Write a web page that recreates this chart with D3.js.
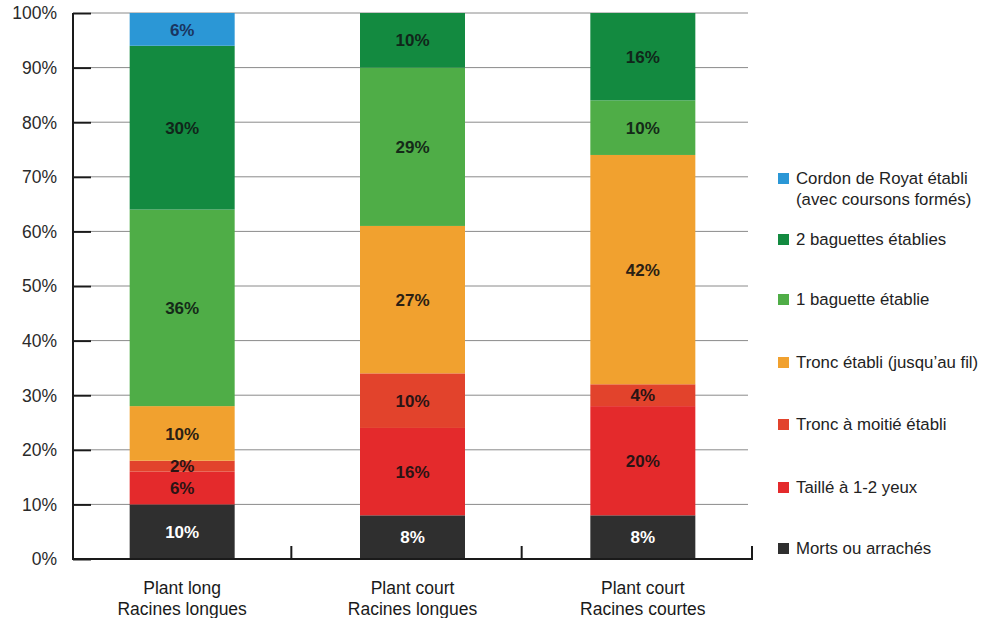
<!DOCTYPE html>
<html><head><meta charset="utf-8">
<script src="https://cdn.jsdelivr.net/npm/d3@7"></script>
<style>body{margin:0;background:#fff;} svg{display:block;font-family:"Liberation Sans",Arial,sans-serif;}</style>
</head><body>
<svg id="c" width="1000" height="618"></svg>
<script>
const categories = [["Plant long","Racines longues"],["Plant court","Racines longues"],["Plant court","Racines courtes"]];
const seriesNames = ["Morts ou arrachés","Taillé à 1-2 yeux","Tronc à moitié établi","Tronc établi (jusqu’au fil)","1 baguette établie","2 baguettes établies","Cordon de Royat établi (avec coursons formés)"];
const morts = [10, 8, 8];
const taille = [6, 16, 20];
const moitie = [2, 10, 4];
const tronc = [10, 27, 42];
const bag1 = [36, 29, 10];
const bag2 = [30, 10, 16];
const cordon = [6, 0, 0];
const yTicks = [0,10,20,30,40,50,60,70,80,90,100];
const colors = ["#2f2f2f","#e42a2c","#e2432c","#f1a12f","#4fad47","#138a40","#2b97d6"];
const labelColors = ["#ffffff","#2a1414","#2a1414","#2a2014","#142a18","#10261a","#1a3560"];

const series = [morts, taille, moitie, tronc, bag1, bag2, cordon];
const svg = d3.select("#c");
const x0 = 73, x1 = 752;
const x = d3.scaleBand().domain(d3.range(categories.length)).range([67, 758]);
const y = d3.scaleLinear().domain([0,100]).range([559, 13]);
const barW = 105;

// gridlines
svg.append("g").selectAll("line").data(yTicks.slice(1)).join("line")
  .attr("x1", 91).attr("x2", 748).attr("y1", d=>y(d)).attr("y2", d=>y(d))
  .attr("stroke", "#8a8a8a").attr("stroke-width", 1);

// stacked data
const table = categories.map((c,i)=>{ const o={i}; series.forEach((s,k)=>o["s"+k]=s[i]); return o; });
const stack = d3.stack().keys(series.map((s,k)=>"s"+k))(table);

const g = svg.append("g");
stack.forEach((layer,k)=>{
  layer.forEach((d,i)=>{
    if (d[1]-d[0] <= 0) return;
    const cx = x(i) + x.bandwidth()/2;
    g.append("rect").attr("x", cx - barW/2).attr("width", barW)
      .attr("y", y(d[1])).attr("height", y(d[0]) - y(d[1]))
      .attr("fill", colors[k]);
  });
});
stack.forEach((layer,k)=>{
  layer.forEach((d,i)=>{
    if (d[1]-d[0] <= 0) return;
    const cx = x(i) + x.bandwidth()/2;
    g.append("text").attr("x", cx).attr("y", (y(d[0])+y(d[1]))/2)
      .attr("dy","0.36em").attr("text-anchor","middle")
      .attr("font-size", 17).attr("font-weight","bold")
      .attr("fill", labelColors[k]).text((d[1]-d[0]) + "%");
  });
});

// y axis
const ya = svg.append("g").attr("transform", `translate(${x0},0)`)
  .call(d3.axisRight(y).tickValues(yTicks).tickSize(18).tickFormat(d=>""));
ya.select(".domain").remove();
ya.selectAll(".tick line").attr("stroke","#1a1a1a").attr("stroke-width",2);
svg.append("line").attr("x1",x0).attr("x2",x0).attr("y1",y(100)).attr("y2",y(0)+1).attr("stroke","#1a1a1a").attr("stroke-width",2);
svg.append("g").selectAll("text").data(yTicks).join("text")
  .attr("x", 57).attr("y", d=>y(d)).attr("dy","0.36em").attr("text-anchor","end")
  .attr("font-size", 17.5).attr("fill","#2a2a2a").text(d=>d+"%");

// x axis
svg.append("line").attr("x1",x0-1).attr("x2",x1+1).attr("y1",y(0)).attr("y2",y(0)).attr("stroke","#1a1a1a").attr("stroke-width",2);
svg.append("g").selectAll("line").data(d3.range(categories.length)).join("line")
  .attr("x1", i=>x(i)+x.bandwidth()-6).attr("x2", i=>x(i)+x.bandwidth()-6)
  .attr("y1", y(0)).attr("y2", y(0)-13).attr("stroke","#1a1a1a").attr("stroke-width",2);
const cl = svg.append("g").selectAll("text").data(categories).join("text")
  .attr("text-anchor","middle").attr("font-size",17.5).attr("fill","#1a1a1a");
cl.each(function(c,i){
  const t = d3.select(this); const cx = x(i)+x.bandwidth()/2;
  c.forEach((line,j)=>t.append("tspan").attr("x",cx).attr("y",594+j*21).text(line));
});

// legend
const legendY = [178, 239, 299, 362, 424, 487, 548];
const legendLines = [["Cordon de Royat établi","(avec coursons formés)"],["2 baguettes établies"],["1 baguette établie"],["Tronc établi (jusqu’au fil)"],["Tronc à moitié établi"],["Taillé à 1-2 yeux"],["Morts ou arrachés"]];
const legendColorIdx = [6,5,4,3,2,1,0];
const lg = svg.append("g");
legendLines.forEach((lines,n)=>{
  const yy = legendY[n];
  lg.append("rect").attr("x",778).attr("y",yy-5).attr("width",11).attr("height",11).attr("fill",colors[legendColorIdx[n]]);
  const t = lg.append("text").attr("font-size",16.8).attr("fill","#222");
  lines.forEach((l,j)=>t.append("tspan").attr("x",796).attr("y",yy+j*21).attr("dy","0.36em").text(l));
});
</script>
</body></html>
